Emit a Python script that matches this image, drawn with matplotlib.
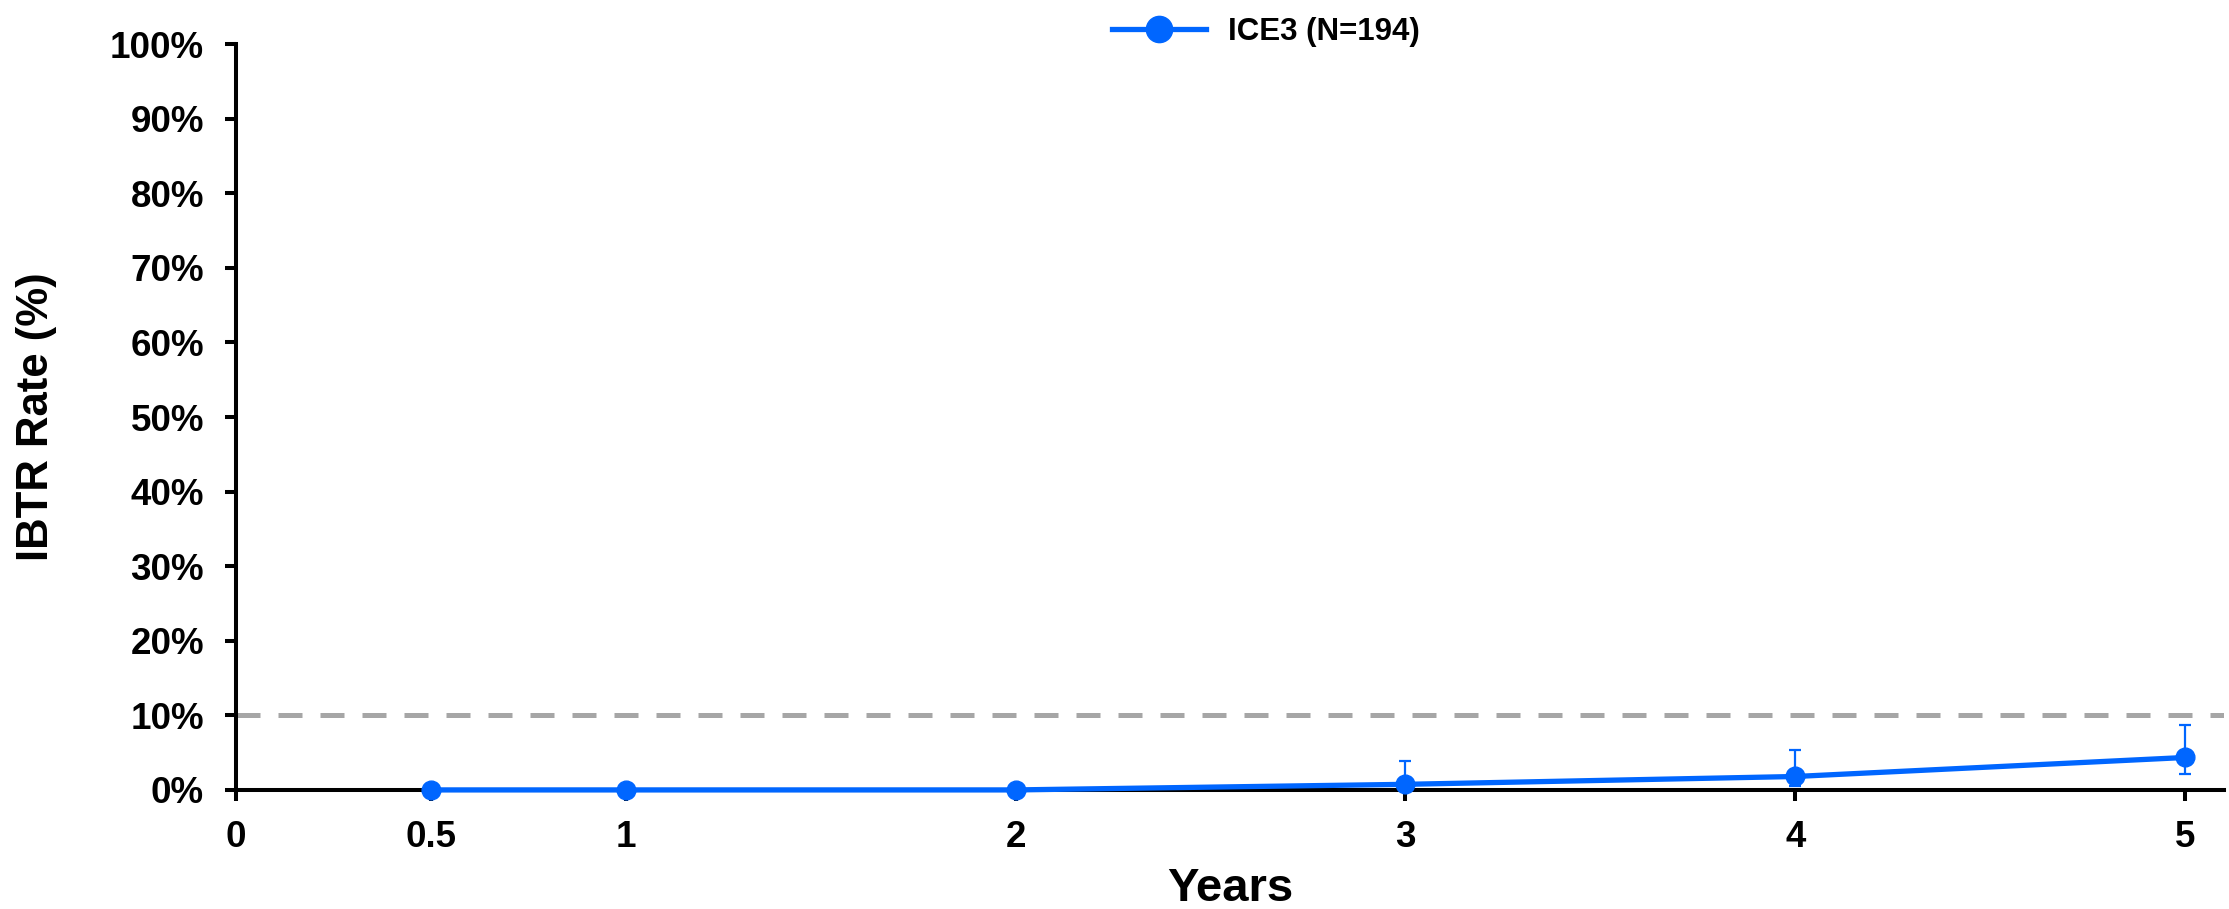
import matplotlib
matplotlib.use("Agg")
import matplotlib.pyplot as plt
from matplotlib.ticker import FuncFormatter
import numpy as np

plt.rcParams['font.family'] = ['Liberation Sans', 'DejaVu Sans']
plt.rcParams['font.weight'] = 'bold'

# IBTR rate by year since treatment (percent)
years = [0.5, 1, 2, 3, 4, 5]
ibtr_rate = [0.0, 0.0, 0.0, 0.75, 1.8, 4.35]
ci_lower = [0.0, 0.0, 0.0, 0.1, 0.5, 2.2]
ci_upper = [0.0, 0.0, 0.0, 3.9, 5.4, 8.7]
x_ticks = [0, 0.5, 1, 2, 3, 4, 5]
y_ticks = list(range(0, 101, 10))
threshold = 10
series_label = "ICE3 (N=194)"

blue = '#0066FF'
gray = '#A6A6A6'

fig = plt.figure(figsize=(22.29, 9.09), dpi=100)
ax = fig.add_axes([0.1059, 0.131, 0.8919, 0.8205])

ax.axhline(threshold, color=gray, lw=3.6, ls=(0, (4.8, 3.6)), zorder=1)

err_low = np.array(ibtr_rate) - np.array(ci_lower)
err_high = np.array(ci_upper) - np.array(ibtr_rate)
has_err = err_high > 0
ax.errorbar(np.array(years)[has_err], np.array(ibtr_rate)[has_err],
            yerr=[err_low[has_err], err_high[has_err]], fmt='none',
            ecolor=blue, elinewidth=1.6, capsize=4.5, capthick=1.6, zorder=3)
ax.plot(years, ibtr_rate, color=blue, lw=3.8, marker='o', ms=13.5,
        label=series_label, zorder=4, clip_on=False)

ax.set_xlim(0, 5.1)
ax.set_ylim(0, 100)
ax.set_xticks(x_ticks)
ax.set_xticklabels(['0', '0.5', '1', '2', '3', '4', '5'])
ax.set_yticks(y_ticks)
ax.yaxis.set_major_formatter(FuncFormatter(lambda v, p: f"{int(v)}%"))

for side in ['top', 'right']:
    ax.spines[side].set_visible(False)
for side in ['left', 'bottom']:
    ax.spines[side].set_linewidth(2.9)
ax.tick_params(axis='both', width=2.9, length=8, labelsize=26.5, pad=14)
ax.tick_params(axis='y', pad=15)

ax.set_xlabel('Years', fontsize=34, fontweight='bold', labelpad=8)
ax.set_ylabel('IBTR Rate (%)', fontsize=31.5, fontweight='bold', labelpad=38)

fig.legend(loc='upper center', bbox_to_anchor=(0.568, 1.012), frameon=False,
           fontsize=22.5, handlelength=3.0, handletextpad=0.7, markerscale=1.4)

fig.savefig('out.png', dpi=100)
